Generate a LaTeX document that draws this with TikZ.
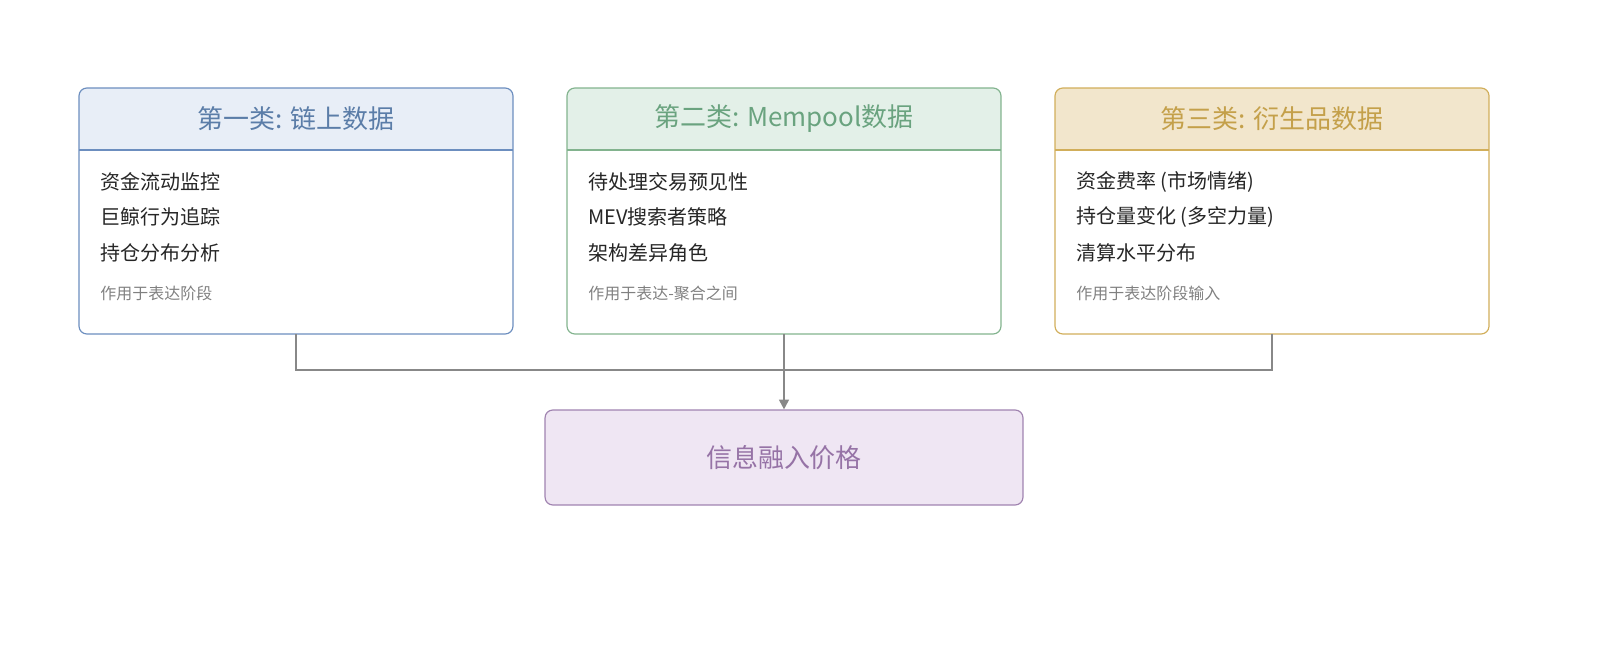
\documentclass[tikz,border=0pt]{standalone}
\usepackage{fontspec}
\setmainfont{Noto Sans CJK SC}
\usetikzlibrary{arrows.meta}
\definecolor{bB}{HTML}{6C8EBF}\definecolor{bF}{HTML}{E8EEF7}\definecolor{bT}{HTML}{5B7DA8}
\definecolor{gB}{HTML}{82B38E}\definecolor{gF}{HTML}{E3F0E8}\definecolor{gT}{HTML}{6AA37F}
\definecolor{yB}{HTML}{D1AE5A}\definecolor{yF}{HTML}{F2E6CC}\definecolor{yT}{HTML}{C4A04A}
\definecolor{pB}{HTML}{A083B0}\definecolor{pF}{HTML}{EFE6F3}\definecolor{pT}{HTML}{9673A6}
\definecolor{ln}{HTML}{888888}
\begin{document}
\begin{tikzpicture}[x=1.0204pt,y=-1.0204pt,
 box/.style={draw=#1B,line width=1.2pt,rounded corners=8pt},
 head/.style={font=\fontsize{26.5}{30}\selectfont,text=#1T},
 item/.style={anchor=west,font=\fontsize{20.4}{24}\selectfont,text=black!85},
 note/.style={anchor=west,font=\fontsize{16.3}{20}\selectfont\itshape,text=black!50},
 conn/.style={draw=ln,line width=2pt}]
\foreach \c/\x/\t/\a/\b/\d/\n in {b/79/第一类: 链上数据/资金流动监控/巨鲸行为追踪/持仓分布分析/作用于表达阶段,
 g/567/第二类: Mempool数据/待处理交易预见性/MEV搜索者策略/架构差异角色/作用于表达-聚合之间,
 y/1055/第三类: 衍生品数据/资金费率 (市场情绪)/持仓量变化 (多空力量)/清算水平分布/作用于表达阶段输入}{
 \begin{scope}
 \clip[rounded corners=8pt] (\x,88) rectangle ++(434,246);
 \fill[\c F] (\x,88) rectangle ++(434,62);
 \end{scope}
 \draw[\c B,line width=1.2pt] (\x,150) -- ++(434,0);
 \draw[box=\c] (\x,88) rectangle ++(434,246);
 \node[head=\c] at (\x+217,119) {\t};
 \node[item] at (\x+18,182) {\a};
 \node[item] at (\x+18,217) {\b};
 \node[item] at (\x+18,253) {\d};
 \node[note] at (\x+18,293) {\n};
}
\coordinate (s1) at (296,334); \coordinate (s2) at (784,334); \coordinate (s3) at (1272,334);
\coordinate (j1) at (296,370); \coordinate (j2) at (784,370); \coordinate (j3) at (1272,370);
\node[draw=pB,fill=pF,line width=1.2pt,rounded corners=8pt,minimum width=487.7pt,minimum height=96.9pt,font=\fontsize{26.5}{30}\selectfont,text=pT] (out) at (784,457.5) {信息融入价格};
\draw[conn] (s1) -- (j1) -- (j3) -- (s3);
\draw[conn,-{Triangle[length=10pt,width=10pt]}] (s2) -- (out.north);
\pgfresetboundingbox
\useasboundingbox (0,0) rectangle (1600,667);
\end{tikzpicture}
\end{document}
